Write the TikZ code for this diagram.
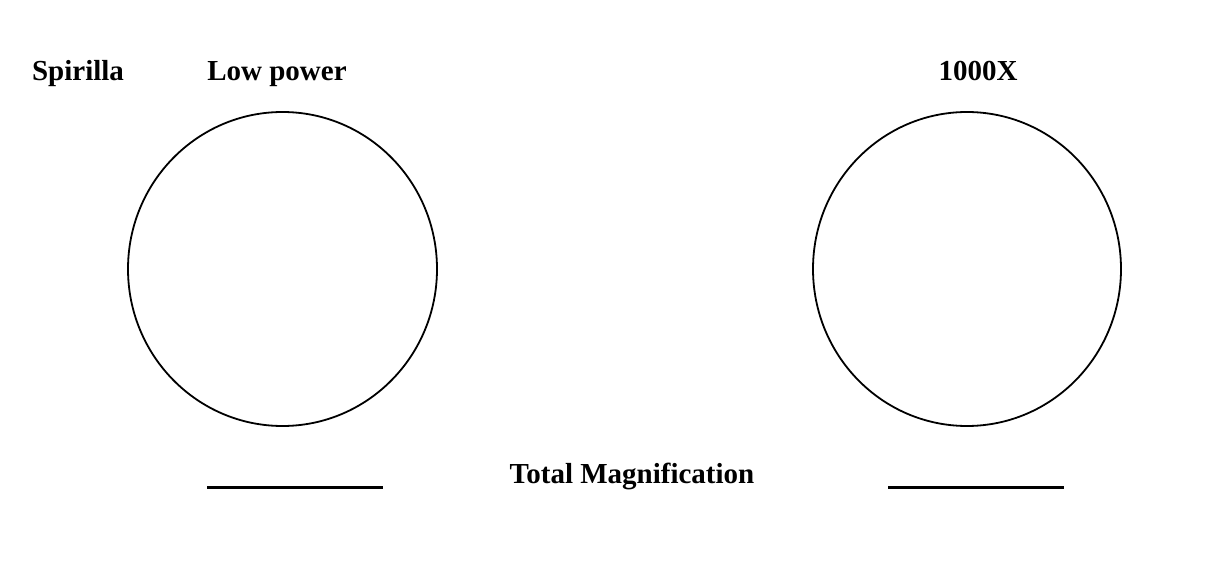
\documentclass[tikz,border=0pt]{standalone}
\usepackage{fontspec}
\setmainfont{Liberation Serif}
\tikzset{
  lbl/.style={font=\fontsize{21.75pt}{24pt}\selectfont\bfseries, inner sep=0pt, anchor=base},
  field/.style={draw=black, line width=1.35pt},
  blank/.style={draw=black, line width=1.9pt}
}
\begin{document}
\begin{tikzpicture}[x=0.75pt,y=-0.75pt]
\useasboundingbox (0,0) rectangle (1213,573);
\node[lbl] (spir) at (78,80.5) {Spirilla};
\node[lbl] (low) at (277,80.5) {Low power};
\node[lbl] (thou) at (978,80.5) {1000X};
\node[lbl] (tot) at (632,483) {Total Magnification};
\draw[field] (282.5,269) ellipse [x radius=154.5, y radius=157];
\draw[field] (967,269) ellipse [x radius=154, y radius=157];
\coordinate (la) at (207,487.5);
\coordinate (lb) at (383,487.5);
\coordinate (ra) at (888,487.5);
\coordinate (rb) at (1064,487.5);
\draw[blank] (la) -- (lb);
\draw[blank] (ra) -- (rb);
\end{tikzpicture}
\end{document}
